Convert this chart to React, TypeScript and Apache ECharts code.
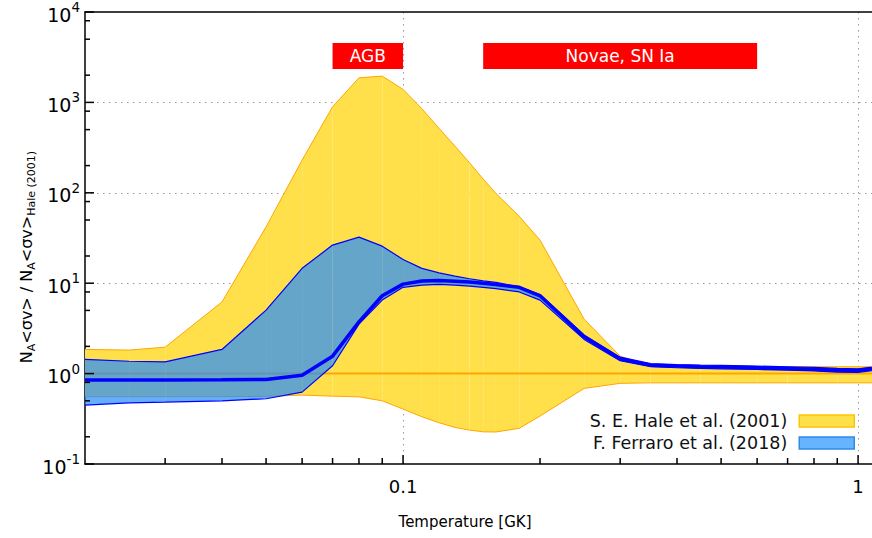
import React, { useEffect, useRef } from "react";
import * as echarts from "echarts";

const temps = [0.02, 0.025, 0.03, 0.04, 0.05, 0.06, 0.07, 0.08, 0.09, 0.1, 0.11, 0.12, 0.13, 0.14, 0.15, 0.16, 0.18, 0.2, 0.25, 0.3, 0.35, 0.4, 0.45, 0.5, 0.6, 0.7, 0.8, 0.9, 1.0, 1.25];

const haleUpper = [1.85, 1.82, 1.96, 6.2, 42, 230, 894, 1870, 1955, 1393, 850, 516, 329, 215, 142, 98.5, 55, 30, 4.0, 1.56, 1.22, 1.2, 1.2, 1.19, 1.19, 1.19, 1.19, 1.19, 1.19, 1.19];
const haleLower = [0.555, 0.555, 0.555, 0.556, 0.56, 0.578, 0.563, 0.553, 0.5, 0.405, 0.333, 0.286, 0.254, 0.237, 0.227, 0.226, 0.248, 0.339, 0.686, 0.78, 0.79, 0.79, 0.79, 0.79, 0.79, 0.79, 0.79, 0.79, 0.79, 0.79];
const haleRec = [1, 1, 1, 1, 1, 1, 1, 1, 1, 1, 1, 1, 1, 1, 1, 1, 1, 1, 1, 1, 1, 1, 1, 1, 1, 1, 1, 1, 1, 1];

const ferUpper = [1.44, 1.37, 1.35, 1.85, 5.04, 14.6, 26.4, 32.3, 25.7, 18.3, 14.6, 13.0, 12.0, 11.2, 10.6, 10.2, 9.1, 7.5, 2.67, 1.52, 1.29, 1.26, 1.24, 1.23, 1.21, 1.19, 1.17, 1.14, 1.13, 1.3];
const ferRec = [0.847, 0.85, 0.85, 0.855, 0.86, 0.96, 1.56, 3.74, 7.26, 9.77, 10.6, 10.7, 10.5, 10.3, 10.0, 9.7, 9.0, 7.26, 2.55, 1.45, 1.24, 1.21, 1.19, 1.18, 1.16, 1.14, 1.12, 1.09, 1.08, 1.25];
const ferLower = [0.449, 0.475, 0.484, 0.5, 0.527, 0.624, 1.22, 3.53, 6.5, 9.0, 9.5, 9.7, 9.5, 9.3, 9.0, 8.7, 8.0, 6.5, 2.39, 1.39, 1.19, 1.16, 1.14, 1.13, 1.11, 1.09, 1.07, 1.04, 1.03, 1.2];

const regionNames = ["AGB", "Novae, SN Ia"];
const regionFrom = [0.07, 0.15];
const regionTo = [0.1, 0.6];
const regionLow = 2335;
const regionHigh = 4530;

const xMin = 0.02;
const xMax = 1.073;
const yMin = 0.1;
const yMax = 10000;

const xMajorTicks = [0.1, 1];
const xMinorTicks = [0.03, 0.04, 0.05, 0.06, 0.07, 0.08, 0.09, 0.2, 0.3, 0.4, 0.5, 0.6, 0.7, 0.8, 0.9];
const yMajorTicks = [0.1, 1, 10, 100, 1000, 10000];
const yMinorTicks = [0.2, 0.5, 0.8, 2, 5, 8, 20, 50, 80, 200, 500, 800, 2000, 5000, 8000];

const HALE_NAME = "S. E. Hale et al. (2001)";
const FER_NAME = "F. Ferraro et al. (2018)";

const FONT = "'DejaVu Sans', Verdana, sans-serif";

function tickSeries(values: number[], horizontal: boolean, len: number) {
  return {
    type: "custom",
    silent: true,
    clip: false,
    z: 10,
    data: values.map((v) => (horizontal ? [v, yMin] : [xMin, v])),
    renderItem: (params: any, api: any) => {
      const p = api.coord([api.value(0), api.value(1)]);
      const shape = horizontal
        ? { x1: p[0], y1: p[1], x2: p[0], y2: p[1] - len }
        : { x1: p[0], y1: p[1], x2: p[0] + len, y2: p[1] };
      return { type: "line", shape, style: { stroke: "#000", lineWidth: 1.5 } };
    },
  };
}

function bandSeries(name: string, lower: number[], upper: number[], fill: string, z: number) {
  return {
    name,
    type: "custom",
    silent: true,
    clip: true,
    z,
    itemStyle: { color: fill },
    data: temps.slice(0, -1).map((t, i) => [t, temps[i + 1], lower[i], upper[i], lower[i + 1], upper[i + 1]]),
    renderItem: (params: any, api: any) => {
      const t0 = api.value(0);
      const t1 = api.value(1);
      const pts = [
        api.coord([t0, api.value(2)]),
        api.coord([t1, api.value(4)]),
        api.coord([t1, api.value(5)]),
        api.coord([t0, api.value(3)]),
      ];
      return { type: "polygon", shape: { points: pts }, style: { fill, stroke: "none" } };
    },
  };
}

function lineSeries(name: string, arr: number[], color: string, width: number, z: number, extra: any = {}) {
  return {
    name,
    type: "line",
    data: temps.map((t, i) => [t, arr[i]]),
    symbol: "none",
    silent: true,
    lineStyle: { color, width },
    z,
    ...extra,
  };
}

export default function App() {
  const ref = useRef<HTMLDivElement>(null);
  useEffect(() => {
    if (!ref.current) return;
    const chart = echarts.init(ref.current, null, { renderer: "svg" });
    const dotted = { color: "#999", width: 1, type: [1.5, 4.5] as any };

    chart.setOption({
      animation: false,
      textStyle: { fontFamily: FONT },
      grid: { left: 85, right: 0, top: 12, bottom: 74 },
      legend: {
        orient: "vertical",
        right: 17,
        top: 411,
        padding: 0,
        align: "right",
        itemWidth: 55,
        itemHeight: 12,
        itemGap: 2,
        selectedMode: false,
        textStyle: { fontSize: 17.5, color: "#111", fontFamily: FONT, lineHeight: 20, padding: [0, 7, 0, 0] },
        data: [
          { name: HALE_NAME, icon: "rect", itemStyle: { color: "#FFE04A", borderColor: "#FFC400", borderWidth: 1.5 } },
          { name: FER_NAME, icon: "rect", itemStyle: { color: "#66B3FF", borderColor: "#2E8BEA", borderWidth: 1.5 } },
        ],
      },
      xAxis: [
        {
          type: "log",
          logBase: 10,
          min: xMin,
          max: xMax,
          axisLine: { onZero: false, lineStyle: { color: "#000", width: 1.5 } },
          axisTick: { show: false },
          axisLabel: {
            showMinLabel: false,
            showMaxLabel: false,
            margin: 13,
            fontSize: 18,
            color: "#000",
            fontFamily: FONT,
            formatter: (v: number) => (Math.abs(v - 0.1) < 1e-9 ? "0.1" : Math.abs(v - 1) < 1e-9 ? "1" : ""),
          },
          splitLine: { show: true, showMinLine: false, showMaxLine: false, lineStyle: dotted },
        },
        {
          type: "log",
          logBase: 10,
          min: xMin,
          max: xMax,
          position: "top",
          axisLine: { show: true, onZero: false, lineStyle: { color: "#000", width: 1.5 } },
          axisTick: { show: false },
          axisLabel: { show: false },
          splitLine: { show: false },
        },
      ],
      yAxis: {
        type: "log",
        logBase: 10,
        min: yMin,
        max: yMax,
        axisLine: { show: true, onZero: false, lineStyle: { color: "#000", width: 1.5 } },
        axisTick: { show: false },
        axisLabel: {
          margin: 5,
          color: "#000",
          formatter: (v: number) => `{b|10}{s|${Math.round(Math.log10(v))}}`,
          rich: {
            b: { fontSize: 19, lineHeight: 24, verticalAlign: "bottom", fontFamily: FONT, color: "#000" },
            s: { fontSize: 13.5, lineHeight: 13, verticalAlign: "top", fontFamily: FONT, color: "#000" },
          },
        },
        splitLine: { show: true, showMinLine: false, showMaxLine: false, lineStyle: dotted },
      },
      graphic: [
        {
          type: "text",
          x: 26,
          y: 257,
          rotation: Math.PI / 2,
          style: {
            text: "{n|N}{s|A}{n|<σv> / N}{s|A}{n|<σv>}{s|Hale (2001)}",
            align: "center",
            verticalAlign: "middle",
            rich: {
              n: { fontSize: 16, lineHeight: 22, fontFamily: FONT, fill: "#000" },
              s: { fontSize: 11, lineHeight: 11, verticalAlign: "bottom", fontFamily: FONT, fill: "#000" },
            },
          },
        },
        {
          type: "text",
          x: 465,
          y: 522,
          style: { text: "Temperature [GK]", fontSize: 15, fontFamily: FONT, fill: "#000", align: "center", verticalAlign: "middle" },
        },
      ],
      series: [
        bandSeries(HALE_NAME, haleLower, haleUpper, "#FFE04A", 2),
        lineSeries("haleLow", haleLower, "#FFA500", 1, 2),
        lineSeries("haleUp", haleUpper, "#FFA500", 1, 2),
        lineSeries("haleRec", haleRec, "#FFA500", 2, 2, {
          markArea: {
            silent: true,
            itemStyle: { color: "#FF0000", opacity: 1 },
            label: { show: true, position: "inside", color: "#fff", fontSize: 17, fontFamily: FONT },
            data: regionNames.map((n, i) => [
              { name: n, xAxis: regionFrom[i], yAxis: regionLow },
              { xAxis: regionTo[i], yAxis: regionHigh },
            ]),
          },
        }),
        bandSeries(FER_NAME, ferLower, ferUpper, "rgba(34,140,255,0.7)", 3),
        lineSeries("ferLow", ferLower, "#0000FF", 1.2, 4),
        lineSeries("ferUp", ferUpper, "#0000FF", 1.2, 4),
        lineSeries("ferRec", ferRec, "#0000FF", 3.5, 5),
        tickSeries(xMajorTicks, true, 9),
        tickSeries(xMinorTicks, true, 6),
        tickSeries(yMajorTicks, false, 9),
        tickSeries(yMinorTicks, false, 5),
      ],
    });
    return () => chart.dispose();
  }, []);
  return <div ref={ref} style={{ width: 872, height: 538, position: "absolute", left: 0, top: 0 }} />;
}
